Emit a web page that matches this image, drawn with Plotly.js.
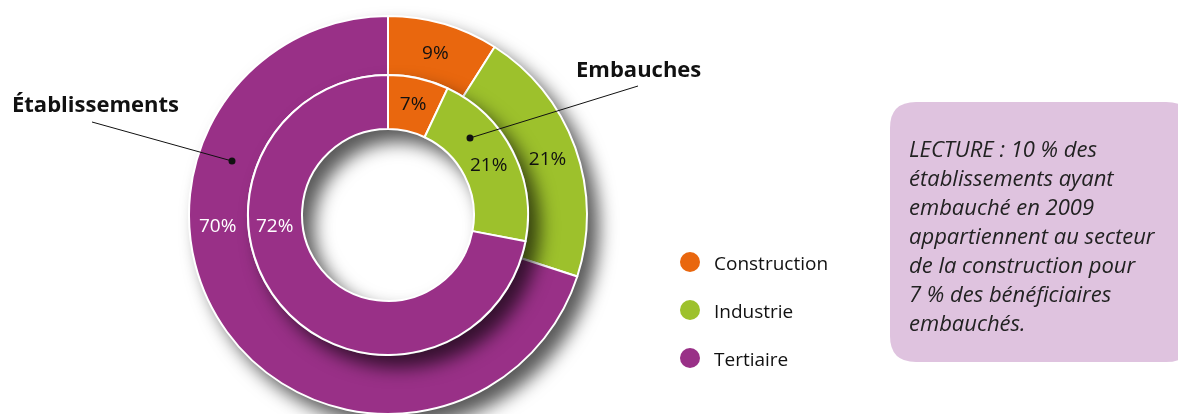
<!DOCTYPE html>
<html>
<head>
<meta charset="utf-8">
<script src="https://cdn.plot.ly/plotly-3.0.1.min.js"></script>
<style>
  html, body { margin: 0; padding: 0; background: #fff; overflow: hidden; }
  #chart { width: 1178px; height: 414px; }
</style>
</head>
<body>
<div id="chart"></div>
<script>
var secteurs = ['Construction', 'Industrie', 'Tertiaire'];
var etablissements = [9, 21, 70];
var embauches = [7, 21, 72];
var couleurs = ['#e9670e', '#9dc12c', '#993087'];
var lecture = [
  'LECTURE : 10 % des',
  'établissements ayant',
  'embauché en 2009',
  'appartiennent au secteur',
  'de la construction pour',
  '7 % des bénéficiaires',
  'embauchés.'
];

var W = 1178, H = 414;
function px(x) { return x / W; }
function py(y) { return 1 - y / H; }

var FONT = '"Open Sans", Lato, sans-serif';

function ring(values, hole, domain) {
  return {
    type: 'pie',
    labels: secteurs,
    values: values,
    sort: false,
    direction: 'clockwise',
    rotation: 0,
    hole: hole,
    domain: domain,
    marker: {colors: couleurs, line: {color: '#fff', width: 2}},
    texttemplate: ['%{value}%', '%{value}%', ''],
    textposition: 'inside',
    insidetextorientation: 'horizontal',
    insidetextfont: {family: FONT, size: 19, color: ['#111', '#111', '#fff']},
    hoverinfo: 'label+value',
    showlegend: false
  };
}

var outer = ring(etablissements, 0.704, {x: [px(188), px(588)], y: [0, py(16)]});
var inner = ring(embauches, 0.614, {x: [px(248), px(528)], y: [py(355), py(75)]});

function note(x, y, text, size, color, xanchor) {
  return {x: px(x), y: py(y), xref: 'paper', yref: 'paper', text: text, showarrow: false,
          xanchor: xanchor || 'center', yanchor: 'middle',
          font: {family: FONT, size: size, color: color}};
}

var annotations = [
  note(217, 225, etablissements[2] + '%', 19, '#fff'),
  note(274, 225, embauches[2] + '%', 19, '#fff'),
  note(10, 103, '<b>Établissements</b>', 22, '#111', 'left'),
  note(574, 68, '<b>Embauches</b>', 22, '#111', 'left')
];
lecture.forEach(function (l, i) {
  annotations.push(note(907, 148 + i * 29, '<i>' + l + '</i>', 22, '#222', 'left'));
});

// rounded box
var bx0 = 890, bx1 = 1192, by0 = 102, by1 = 362, r = 26;
var boxPath = 'M ' + px(bx0 + r) + ' ' + py(by0) +
  ' L ' + px(bx1 - r) + ' ' + py(by0) +
  ' Q ' + px(bx1) + ' ' + py(by0) + ' ' + px(bx1) + ' ' + py(by0 + r) +
  ' L ' + px(bx1) + ' ' + py(by1 - r) +
  ' Q ' + px(bx1) + ' ' + py(by1) + ' ' + px(bx1 - r) + ' ' + py(by1) +
  ' L ' + px(bx0 + r) + ' ' + py(by1) +
  ' Q ' + px(bx0) + ' ' + py(by1) + ' ' + px(bx0) + ' ' + py(by1 - r) +
  ' L ' + px(bx0) + ' ' + py(by0 + r) +
  ' Q ' + px(bx0) + ' ' + py(by0) + ' ' + px(bx0 + r) + ' ' + py(by0) + ' Z';

function dot(x, y, rad, color) {
  return {type: 'circle', xref: 'paper', yref: 'paper', xsizemode: 'pixel', ysizemode: 'pixel',
          xanchor: px(x), yanchor: py(y), x0: -rad, x1: rad, y0: -rad, y1: rad,
          fillcolor: color, line: {width: 0}, layer: 'above'};
}

var shapes = [
  {type: 'path', xref: 'paper', yref: 'paper', path: boxPath,
   fillcolor: '#dfc3df', line: {width: 0}, layer: 'below'},
  {type: 'line', xref: 'paper', yref: 'paper', x0: px(92), y0: py(122), x1: px(232), y1: py(161),
   line: {color: '#111', width: 1}, layer: 'above'},
  {type: 'line', xref: 'paper', yref: 'paper', x0: px(638), y0: py(86), x1: px(470), y1: py(138),
   line: {color: '#111', width: 1}, layer: 'above'},
  dot(232, 161, 3.5, '#111'),
  dot(470, 138, 3.5, '#111')
];

// legend: round markers with labels
secteurs.forEach(function (s, i) {
  var y = 262 + i * 48;
  shapes.push(dot(690, y, 10, couleurs[i]));
  annotations.push(note(712, y + 1, s, 19, '#111', 'left'));
});

var layout = {
  width: W, height: H,
  margin: {l: 0, r: 0, t: 0, b: 0},
  paper_bgcolor: '#fff',
  showlegend: false,
  annotations: annotations,
  shapes: shapes
};

Plotly.newPlot('chart', [outer, inner], layout, {displayModeBar: false, staticPlot: true})
  .then(function (gd) {
    gd.querySelectorAll('.pielayer .trace').forEach(function (t) {
      t.style.filter = 'drop-shadow(11px 12px 9px rgba(0,0,0,0.65))';
    });
  });
</script>
</body>
</html>
